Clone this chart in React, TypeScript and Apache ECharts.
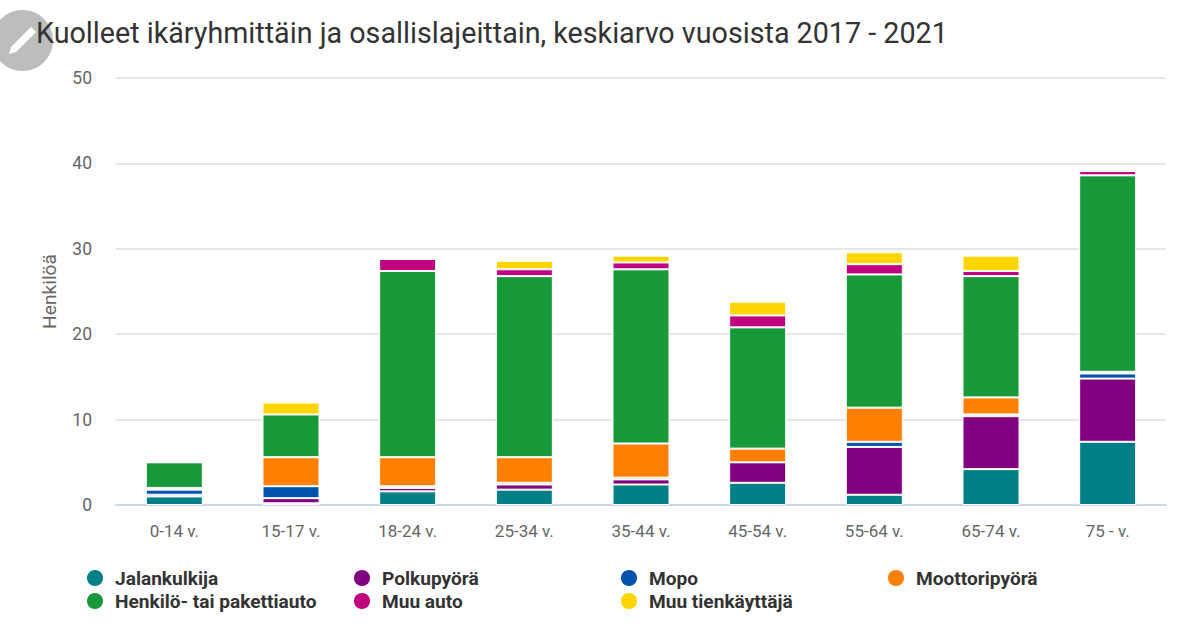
import React, { useEffect, useRef } from "react";
import * as echarts from "echarts";

const categories = ["0-14 v.", "15-17 v.", "18-24 v.", "25-34 v.", "35-44 v.", "45-54 v.", "55-64 v.", "65-74 v.", "75 - v."];
const jalankulkija = [1.0, 0.2, 1.6, 1.8, 2.4, 2.6, 1.2, 4.2, 7.4];
const polkupyora = [0.2, 0.6, 0.4, 0.6, 0.6, 2.4, 5.6, 6.2, 7.4];
const mopo = [0.6, 1.4, 0.2, 0.2, 0.2, 0, 0.6, 0.2, 0.6];
const moottoripyora = [0.2, 3.4, 3.4, 3.0, 4.0, 1.6, 4.0, 2.0, 0.2];
const henkiloauto = [3.0, 5.0, 21.8, 21.2, 20.4, 14.2, 15.6, 14.2, 23.0];
const muuAuto = [0, 0, 1.4, 0.8, 0.8, 1.4, 1.2, 0.6, 0.5];
const muuTienkayttaja = [0, 1.4, 0, 1.0, 0.8, 1.6, 1.4, 1.8, 0];

const seriesDefs = [
  { name: "Jalankulkija", data: jalankulkija, color: "#008086" },
  { name: "Polkupyörä", data: polkupyora, color: "#800080" },
  { name: "Mopo", data: mopo, color: "#0053ad" },
  { name: "Moottoripyörä", data: moottoripyora, color: "#ff7f00" },
  { name: "Henkilö- tai pakettiauto", data: henkiloauto, color: "#189939" },
  { name: "Muu auto", data: muuAuto, color: "#c0007f" },
  { name: "Muu tienkäyttäjä", data: muuTienkayttaja, color: "#ffd500" },
];

const legendColumns = [
  { left: 85, names: ["Jalankulkija", "Henkilö- tai pakettiauto"] },
  { left: 352, names: ["Polkupyörä", "Muu auto"] },
  { left: 619, names: ["Mopo", "Muu tienkäyttäjä"] },
  { left: 886, names: ["Moottoripyörä"] },
];

const FONT = "Roboto";

export default function App() {
  const ref = useRef<HTMLDivElement>(null);
  useEffect(() => {
    const chart = echarts.init(ref.current!, undefined, { renderer: "svg" });
    chart.setOption({
      animation: false,
      backgroundColor: "#ffffff",
      textStyle: { fontFamily: FONT },
      title: {
        text: "Kuolleet ikäryhmittäin ja osallislajeittain, keskiarvo vuosista 2017 - 2021",
        left: 36,
        top: 18,
        padding: 0,
        textStyle: { fontFamily: FONT, fontSize: 28.7, fontWeight: "normal", color: "#333333" },
      },
      grid: { left: 116, right: 34, top: 78, bottom: 132, containLabel: false },
      xAxis: {
        type: "category",
        data: categories,
        axisLine: { lineStyle: { color: "#ccd6eb", width: 2 } },
        axisTick: { show: false },
        axisLabel: { fontFamily: FONT, fontSize: 17, color: "#666666", margin: 17 },
      },
      yAxis: {
        type: "value",
        min: 0,
        max: 50,
        interval: 10,
        name: "Henkilöä",
        nameLocation: "middle",
        nameGap: 55,
        nameRotate: 90,
        nameTextStyle: { fontFamily: FONT, fontSize: 19.2, color: "#666666", padding: [0, 0, 2, 0] },
        axisLine: { show: false },
        axisTick: { show: false },
        axisLabel: { fontFamily: FONT, fontSize: 17.5, color: "#666666", margin: 24, padding: [3, 0, 0, 0] },
        splitLine: { lineStyle: { color: "#e6e6e6", width: 2 } },
      },
      legend: legendColumns.map((c) => ({
        orient: "vertical",
        left: c.left,
        top: 568,
        padding: 0,
        itemGap: 3,
        itemWidth: 18,
        itemHeight: 18,
        icon: "circle",
        selectedMode: false,
        data: c.names,
        textStyle: { fontFamily: FONT, fontSize: 19.1, fontWeight: "bold", color: "#333333", padding: [0, 0, 0, 6] },
      })),
      series: seriesDefs.map((s) => ({
        name: s.name,
        type: "bar",
        stack: "total",
        data: s.data,
        barWidth: 57,
        itemStyle: { color: s.color, borderColor: "#ffffff", borderWidth: 1 },
      })),
      graphic: [
        {
          type: "circle",
          z: -1,
          shape: { cx: 22.5, cy: 40.5, r: 30.5 },
          style: { fill: "#bdbdbd" },
        },
        {
          type: "polygon",
          z: -1,
          shape: { points: [[9, 54], [11, 47], [31, 27], [36, 32], [16, 52]] },
          style: { fill: "#ffffff" },
        },
      ],
    });
    return () => chart.dispose();
  }, []);
  return <div ref={ref} style={{ position: "fixed", left: 0, top: 0, width: 1200, height: 637 }} />;
}
